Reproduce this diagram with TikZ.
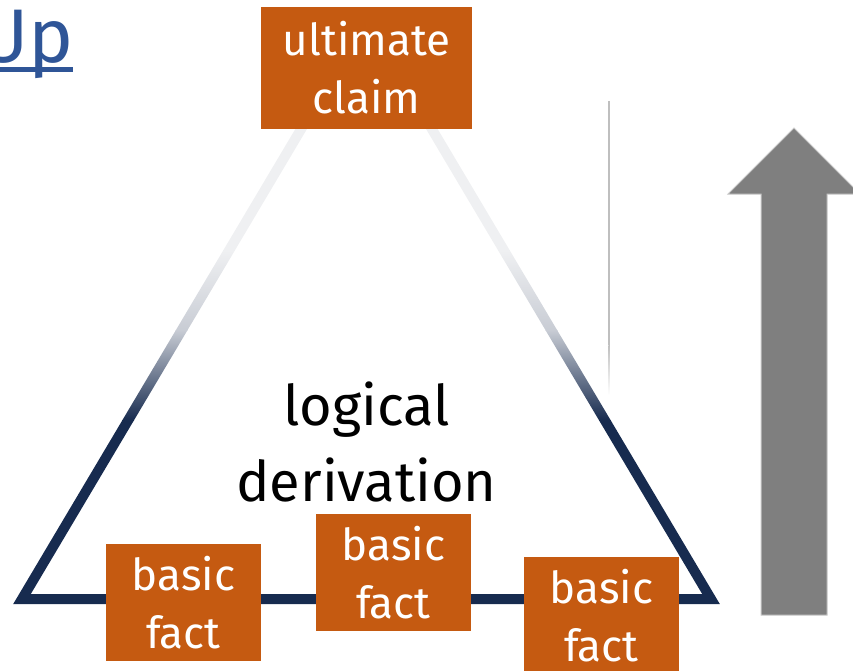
\documentclass[tikz,border=0pt]{standalone}
\usepackage{fontspec}
\setmainfont{Fira Sans}
\definecolor{trinavy}{HTML}{172B4F}
\definecolor{trimid}{HTML}{C8CCD4}
\definecolor{trilight}{HTML}{EFF0F2}
\definecolor{boxorange}{HTML}{C55A11}
\definecolor{upblue}{HTML}{2F5597}
\definecolor{arrowgray}{HTML}{7F7F7F}
\definecolor{arrowedge}{HTML}{C8C8C8}
\definecolor{linegray}{HTML}{BFBFBF}
\tikzset{
  factbox/.style={fill=boxorange, text=white, inner sep=0pt, align=center,
    minimum width=155pt, minimum height=117pt, font=\fontsize{44}{58}\selectfont},
  bigtext/.style={align=center, inner sep=0pt, font=\fontsize{56}{76}\selectfont}
}
\begin{document}
\begin{tikzpicture}[x=1pt, y=-1pt]
\useasboundingbox (0,0) rectangle (853,671);
\clip (0,0) rectangle (853,671);
% triangle vertices (centre line)
\coordinate (tl) at (22,599);
\coordinate (tr) at (711,599);
\coordinate (tt) at (366.5,19);
% triangle ring with vertical gradient
\begin{scope}
  \clip (13.2,604) -- (719.8,604) -- (366.5,9.2) -- cycle
        (30.8,594) -- (366.5,28.8) -- (702.2,594) -- cycle;
  \fill[trinavy] (0,420) rectangle (853,610);
  \shade[top color=trimid, bottom color=trinavy] (0,330) rectangle (853,420.5);
  \shade[top color=trilight, bottom color=trimid] (0,250) rectangle (853,330.5);
  \fill[trilight] (0,0) rectangle (853,250.5);
\end{scope}
% thin vertical line
\coordinate (vl1) at (609,101);
\coordinate (vl2) at (609,345);
\draw[linegray, line width=1.5pt] (vl1) -- (vl2);
\shade[top color=linegray, bottom color=white] (608.25,345) rectangle (609.75,395);
% big arrow
\fill[arrowgray, draw=arrowedge, line width=1pt]
  (761,615) -- (761,194) -- (728,194) -- (794,128) -- (860,194) -- (827,194) -- (827,615) -- cycle;
% Up title
\fill[upblue] (-10,67) rectangle (73,72);
\node[anchor=base east, text=upblue, inner sep=0pt, font=\fontsize{76}{80}\selectfont] (up) at (74,63) {Up};
% nodes
\node[factbox, minimum width=211pt, minimum height=122pt] (claim) at (366.5,68) {ultimate\\claim};
\node[bigtext] (deriv) at (366.5,442) {logical\\derivation};
\node[factbox] (f1) at (183.5,602.5) {basic\\fact};
\node[factbox] (f2) at (393.5,572.5) {basic\\fact};
\node[factbox] (f3) at (601.5,615.5) {basic\\fact};
\end{tikzpicture}
\end{document}
